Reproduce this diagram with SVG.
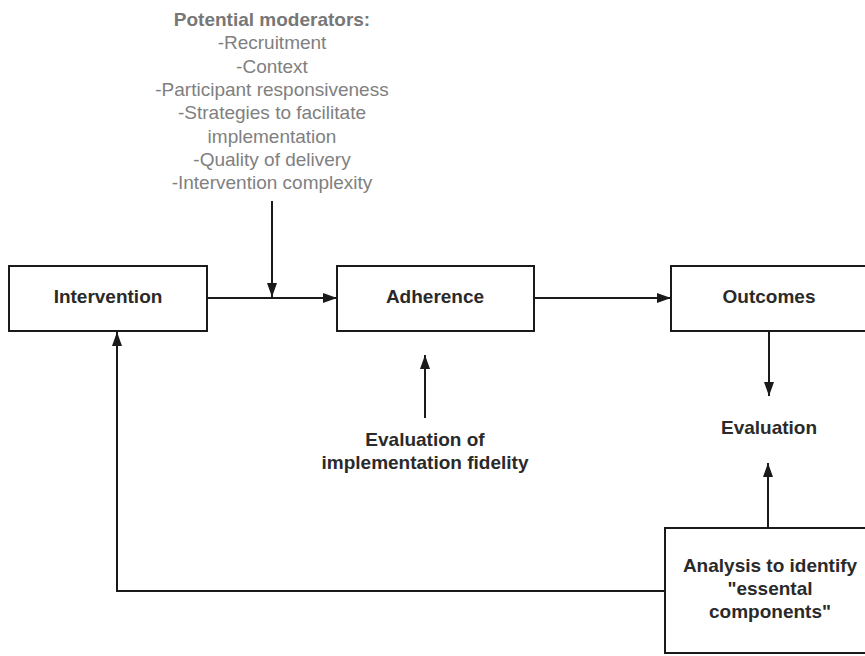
<svg xmlns="http://www.w3.org/2000/svg" width="865" height="656" viewBox="0 0 865 656">
<defs>
<style>
.box{fill:#fff;stroke:#1a1a1a;stroke-width:2}
.lbl{font-family:"Liberation Sans",Arial,sans-serif;font-size:19px;font-weight:bold;fill:#2a2a2a;text-anchor:middle}
.mod{font-family:"Liberation Sans",Arial,sans-serif;font-size:19px;fill:#808080;text-anchor:middle}
.modt{font-weight:bold;fill:#777}
.con{fill:none;stroke:#1a1a1a;stroke-width:2}
</style>
<marker id="ah" viewBox="0 0 14 10" refX="14" refY="5" markerWidth="14" markerHeight="10" markerUnits="userSpaceOnUse" orient="auto">
<path d="M0,0 L14,5 L0,10 Z" fill="#1a1a1a"/>
</marker>
</defs>
<rect width="865" height="656" fill="#fff"/>
<g id="moderators">
<text class="mod"><tspan class="modt" x="272" y="26">Potential moderators:</tspan><tspan x="272" y="49.3">-Recruitment</tspan><tspan x="272" y="72.6">-Context</tspan><tspan x="272" y="96">-Participant responsiveness</tspan><tspan x="272" y="119">-Strategies to facilitate</tspan><tspan x="272" y="142.5">implementation</tspan><tspan x="272" y="166">-Quality of delivery</tspan><tspan x="272" y="189">-Intervention complexity</tspan></text>
</g>
<g id="connectors">
<line class="con" x1="272" y1="201" x2="272" y2="297" marker-end="url(#ah)"/>
<line class="con" x1="207" y1="298" x2="337" y2="298" marker-end="url(#ah)"/>
<line class="con" x1="534" y1="298" x2="671" y2="298" marker-end="url(#ah)"/>
<line class="con" x1="769" y1="331" x2="769" y2="396" marker-end="url(#ah)"/>
<line class="con" x1="425" y1="418" x2="425" y2="355" marker-end="url(#ah)"/>
<line class="con" x1="768" y1="528" x2="768" y2="463" marker-end="url(#ah)"/>
<polyline class="con" points="665,591 117,591 117,332" marker-end="url(#ah)"/>
</g>
<g id="intervention">
<rect class="box" x="9" y="266" width="198" height="65"/>
<text class="lbl" x="108" y="303">Intervention</text>
</g>
<g id="adherence">
<rect class="box" x="337" y="266" width="197" height="65"/>
<text class="lbl" x="435" y="303">Adherence</text>
</g>
<g id="outcomes">
<rect class="box" x="671" y="266" width="198" height="65"/>
<text class="lbl" x="769" y="303">Outcomes</text>
</g>
<g id="evaluation">
<text class="lbl" x="769" y="434">Evaluation</text>
</g>
<g id="fidelity">
<text class="lbl"><tspan x="425" y="446">Evaluation of</tspan><tspan x="425" y="469">implementation fidelity</tspan></text>
</g>
<g id="analysis">
<rect class="box" x="665" y="528" width="204" height="125"/>
<text class="lbl"><tspan x="770" y="572">Analysis to identify</tspan><tspan x="770" y="595">"essental</tspan><tspan x="770" y="618">components"</tspan></text>
</g>
</svg>
